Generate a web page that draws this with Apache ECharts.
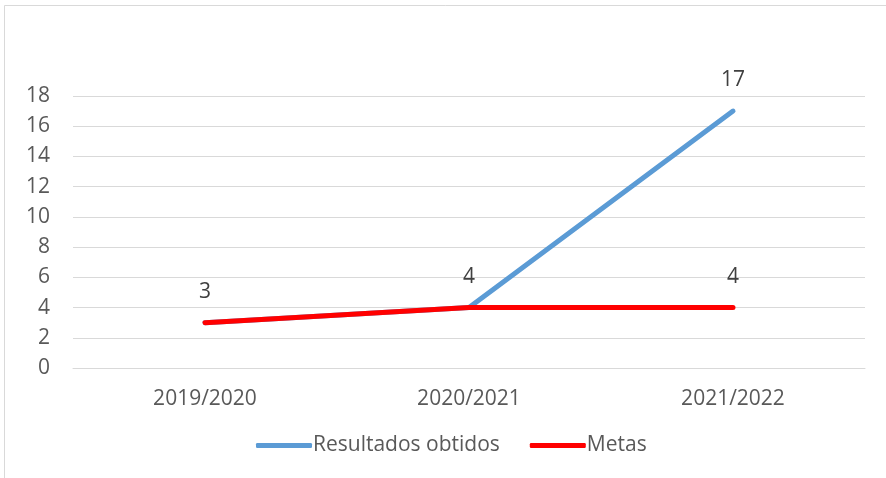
<!DOCTYPE html>
<html>
<head>
<meta charset="utf-8">
<script src="https://cdn.jsdelivr.net/npm/echarts@6/dist/echarts.min.js"></script>
<style>html,body{margin:0;padding:0;background:#fff;}#c{width:886px;height:478px;}</style>
</head>
<body>
<div id="c"></div>
<script>
var categories = ['2019/2020', '2020/2021', '2021/2022'];
var resultados = [3, 4, 17];
var metas = [3, 4, 4];
var metasLabelShown = [false, false, true];

var chart = echarts.init(document.getElementById('c'));
var font = 'Open Sans';
chart.setOption({
  animation: false,
  backgroundColor: '#fff',
  textStyle: { fontFamily: font },
  graphic: [{
    type: 'rect', shape: { x: 4.5, y: 5.5, width: 900, height: 500 },
    style: { fill: 'none', stroke: '#d9d9d9', lineWidth: 1 }, silent: true
  }],
  grid: { left: 73, right: 21, top: 96, bottom: 110 },
  legend: {
    bottom: 22, left: 256, padding: 0,
    itemWidth: 56, itemHeight: 5, itemGap: 30,
    icon: 'roundRect',
    textStyle: { color: '#595959', fontSize: 21, fontFamily: font, padding: [0, 0, 0, -4] },
    data: ['Resultados obtidos', 'Metas']
  },
  xAxis: {
    type: 'category', data: categories,
    axisLine: { show: true, lineStyle: { color: '#d9d9d9' } },
    axisTick: { show: false },
    axisLabel: { color: '#595959', fontSize: 21, margin: 21, fontFamily: font }
  },
  yAxis: {
    type: 'value', min: 0, max: 18, interval: 2,
    axisLine: { show: false }, axisTick: { show: false },
    splitLine: { lineStyle: { color: '#d9d9d9', width: 1 } },
    axisLabel: { color: '#595959', fontSize: 21, margin: 23, fontFamily: font }
  },
  series: [{
    name: 'Resultados obtidos', type: 'line', data: resultados,
    symbol: 'circle', symbolSize: 1, showSymbol: true, z: 2,
    lineStyle: { color: '#5b9bd5', width: 5, cap: 'round' },
    itemStyle: { color: '#5b9bd5' },
    label: { show: true, position: 'top', distance: 20, color: '#404040', fontSize: 21, fontFamily: font }
  }, {
    name: 'Metas', type: 'line', symbol: 'circle', symbolSize: 1, showSymbol: true, z: 3,
    data: metas.map(function (v, i) { return { value: v, label: { show: metasLabelShown[i] } }; }),
    lineStyle: { color: '#ff0000', width: 5, cap: 'round' },
    itemStyle: { color: '#ff0000' },
    label: { show: true, position: 'top', distance: 20, color: '#404040', fontSize: 21, fontFamily: font }
  }]
});
</script>
</body>
</html>
